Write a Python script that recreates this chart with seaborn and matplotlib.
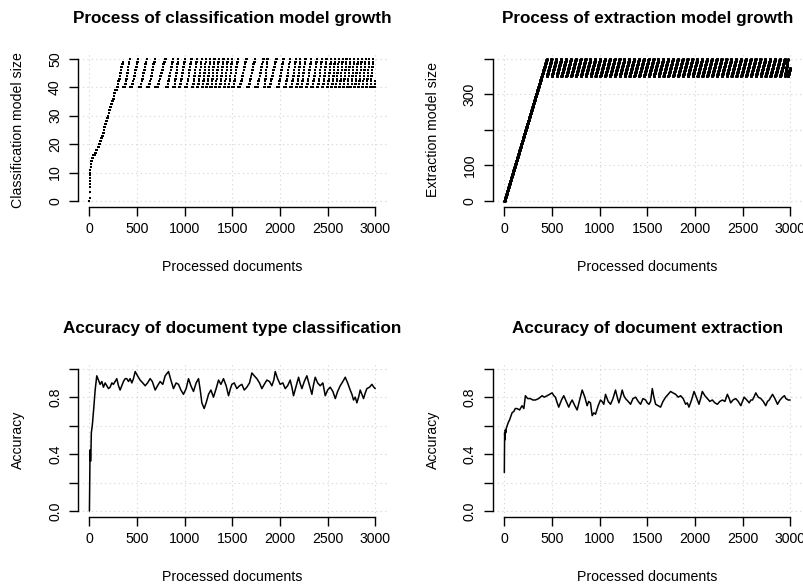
import numpy as np
import pandas as pd
import matplotlib
matplotlib.use("Agg")
import matplotlib.pyplot as plt
import seaborn as sns

sns.set_theme(style="white")
plt.rcParams["font.family"] = ["Liberation Sans", "DejaVu Sans"]
plt.rcParams["text.color"] = "black"
plt.rcParams["axes.labelcolor"] = "black"
plt.rcParams["xtick.color"] = "black"
plt.rcParams["ytick.color"] = "black"

# ---------------- data ----------------
N_DOCS = 3000
# classification model: initial growth anchors
cls_growth_docs = [0, 3, 8, 14, 25, 40, 60, 85, 112, 140, 182, 210, 235, 255, 270, 290, 310, 335, 357]
cls_growth_size = [0, 5, 10, 13, 15, 16, 17, 19, 21, 24, 29, 32, 35, 37, 39, 40, 43, 47, 50]
# classification model: pruning cycles
# doc where the model is pruned back to 40, doc where it starts growing again, doc where it is back at 50
cls_prune_docs = [357, 425, 515, 605, 690, 800, 880, 935, 1005, 1075, 1130, 1180, 1225, 1270,
                  1315, 1360, 1410, 1455, 1500, 1560, 1650, 1740, 1830, 1870, 1965, 2040, 2110,
                  2170, 2215, 2270, 2330, 2390, 2440, 2490, 2540, 2580, 2620, 2660, 2700, 2740,
                  2780, 2820, 2860, 2900, 2940, 2980]
cls_climb_docs = [371, 443, 533, 622, 712, 816, 891, 949, 1019, 1086, 1140, 1189, 1234, 1279,
                  1324, 1370, 1419, 1464, 1512, 1578, 1668, 1758, 1838, 1889, 1980, 2054, 2122,
                  2179, 2226, 2282, 2342, 2400, 2450, 2500, 2548, 2588, 2628, 2668, 2708, 2748,
                  2788, 2828, 2868, 2908, 2948, 2990]
cls_top_docs = [424, 514, 604, 689, 799, 879, 934, 1004, 1074, 1129, 1179, 1224, 1269, 1314,
                1359, 1409, 1454, 1499, 1559, 1649, 1739, 1829, 1869, 1964, 2039, 2109, 2169,
                2214, 2269, 2329, 2389, 2439, 2489, 2539, 2579, 2619, 2659, 2699, 2739, 2779,
                2819, 2859, 2899, 2939, 2979, 3035]
cls_low, cls_high = 40, 50

# extraction model: initial growth and pruning cycles
ext_growth_docs = [0, 446]
ext_growth_size = [0, 400]
ext_prune_docs = [446, 497, 548, 599, 650, 701, 752, 803, 854, 905, 956, 1007, 1058, 1109,
                  1160, 1211, 1262, 1313, 1364, 1415, 1466, 1517, 1568, 1619, 1670, 1721,
                  1772, 1823, 1874, 1925, 1976, 2027, 2078, 2129, 2180, 2231, 2282, 2333,
                  2384, 2435, 2486, 2537, 2588, 2639, 2690, 2741, 2792, 2843, 2894, 2945, 2975]
ext_top_docs = [496, 547, 598, 649, 700, 751, 802, 853, 904, 955, 1006, 1057, 1108, 1159,
                1210, 1261, 1312, 1363, 1414, 1465, 1516, 1567, 1618, 1669, 1720, 1771,
                1822, 1873, 1924, 1975, 2026, 2077, 2128, 2179, 2230, 2281, 2332, 2383,
                2434, 2485, 2536, 2587, 2638, 2689, 2740, 2791, 2842, 2893, 2944, 2974, 3026]
ext_low, ext_high = 350, 400

# accuracy curves
acc_cls_docs = [0, 5, 8, 12, 16, 20, 30, 45, 60, 77, 95, 112, 130, 147, 165, 182, 200, 217, 235,
                252, 270, 287, 305, 322, 340, 357, 375, 392, 410, 427, 445, 462, 480, 505, 532,
                560, 585, 610, 637, 660, 690, 715, 742, 770, 795, 830, 855, 882, 910, 935, 960,
                987, 1015, 1040, 1065, 1092, 1120, 1145, 1165, 1180, 1204, 1225, 1250, 1275,
                1302, 1330, 1355, 1380, 1407, 1435, 1460, 1480, 1495, 1520, 1547, 1575, 1600,
                1625, 1652, 1680, 1705, 1730, 1757, 1785, 1810, 1835, 1862, 1890, 1915, 1935,
                1950, 1975, 2002, 2030, 2055, 2080, 2107, 2125, 2142, 2170, 2195, 2210, 2230,
                2255, 2282, 2310, 2335, 2350, 2370, 2395, 2422, 2450, 2475, 2500, 2527, 2555,
                2580, 2605, 2632, 2660, 2685, 2710, 2737, 2755, 2772, 2790, 2807, 2825, 2842,
                2860, 2877, 2895, 2912, 2940, 2965, 2985, 3000]
acc_cls_vals = [0.00, 0.33, 0.43, 0.35, 0.42, 0.55, 0.60, 0.72, 0.85, 0.95, 0.92, 0.89, 0.91,
                0.87, 0.90, 0.88, 0.86, 0.87, 0.90, 0.89, 0.91, 0.93, 0.88, 0.85, 0.88, 0.91,
                0.93, 0.93, 0.91, 0.93, 0.90, 0.93, 0.98, 0.95, 0.92, 0.90, 0.88, 0.90, 0.93,
                0.91, 0.85, 0.88, 0.91, 0.89, 0.95, 0.98, 0.92, 0.86, 0.90, 0.89, 0.85, 0.82,
                0.86, 0.93, 0.88, 0.84, 0.90, 0.93, 0.84, 0.76, 0.72, 0.76, 0.82, 0.85, 0.80,
                0.86, 0.92, 0.89, 0.93, 0.88, 0.81, 0.86, 0.89, 0.90, 0.86, 0.88, 0.89, 0.85,
                0.87, 0.90, 0.97, 0.95, 0.93, 0.90, 0.86, 0.89, 0.92, 0.91, 0.88, 0.92, 0.98,
                0.93, 0.89, 0.90, 0.86, 0.88, 0.92, 0.87, 0.81, 0.88, 0.94, 0.90, 0.86, 0.91,
                0.95, 0.88, 0.82, 0.88, 0.94, 0.90, 0.88, 0.90, 0.81, 0.85, 0.87, 0.84, 0.79,
                0.84, 0.88, 0.91, 0.94, 0.90, 0.85, 0.82, 0.78, 0.80, 0.76, 0.80, 0.85, 0.82,
                0.79, 0.83, 0.86, 0.87, 0.89, 0.87, 0.86]

acc_ext_docs = [0, 3, 6, 10, 15, 20, 30, 40, 55, 70, 81, 100, 115, 133, 160, 186, 205, 221, 245,
                273, 300, 326, 360, 396, 420, 449, 475, 501, 520, 536, 555, 571, 600, 624, 650,
                676, 695, 712, 740, 764, 790, 817, 845, 869, 885, 904, 922, 940, 957, 985, 1009,
                1025, 1044, 1062, 1090, 1115, 1140, 1167, 1185, 1202, 1220, 1237, 1255, 1272,
                1300, 1325, 1350, 1378, 1405, 1430, 1455, 1483, 1500, 1518, 1535, 1553, 1570,
                1588, 1615, 1640, 1665, 1693, 1720, 1745, 1770, 1798, 1825, 1851, 1877, 1903,
                1920, 1938, 1965, 1991, 2015, 2043, 2060, 2078, 2105, 2131, 2157, 2183, 2210,
                2236, 2262, 2289, 2315, 2341, 2360, 2376, 2400, 2429, 2455, 2482, 2500, 2517,
                2545, 2570, 2587, 2604, 2620, 2639, 2665, 2692, 2718, 2744, 2762, 2780, 2798,
                2815, 2840, 2867, 2893, 2920, 2940, 2955, 2980, 3000]
acc_ext_vals = [0.27, 0.55, 0.50, 0.57, 0.55, 0.58, 0.60, 0.62, 0.64, 0.67, 0.69, 0.70, 0.72,
                0.72, 0.71, 0.74, 0.72, 0.81, 0.79, 0.79, 0.78, 0.78, 0.79, 0.81, 0.80, 0.81,
                0.82, 0.83, 0.81, 0.80, 0.76, 0.73, 0.78, 0.81, 0.77, 0.73, 0.76, 0.78, 0.74,
                0.71, 0.78, 0.85, 0.80, 0.74, 0.77, 0.76, 0.67, 0.69, 0.68, 0.74, 0.78, 0.77,
                0.75, 0.82, 0.77, 0.75, 0.79, 0.85, 0.80, 0.76, 0.80, 0.85, 0.81, 0.79, 0.77,
                0.75, 0.79, 0.80, 0.77, 0.75, 0.79, 0.78, 0.76, 0.75, 0.77, 0.86, 0.80, 0.75,
                0.74, 0.73, 0.77, 0.80, 0.82, 0.84, 0.83, 0.82, 0.80, 0.81, 0.79, 0.75, 0.76,
                0.73, 0.78, 0.84, 0.80, 0.75, 0.79, 0.84, 0.81, 0.79, 0.77, 0.78, 0.76, 0.75,
                0.77, 0.78, 0.77, 0.82, 0.79, 0.76, 0.78, 0.79, 0.77, 0.74, 0.77, 0.80, 0.78,
                0.76, 0.78, 0.78, 0.80, 0.83, 0.80, 0.79, 0.77, 0.74, 0.77, 0.78, 0.80, 0.82,
                0.79, 0.75, 0.78, 0.80, 0.81, 0.79, 0.78, 0.78]

x_ticks = [0, 500, 1000, 1500, 2000, 2500, 3000]
x_tick_labels = ["0", "500", "1000", "1500", "2000", "2500", "3000"]
cls_y_ticks = [0, 10, 20, 30, 40, 50]
cls_y_labels = ["0", "10", "20", "30", "40", "50"]
ext_y_ticks = [0, 100, 200, 300, 400]
ext_y_labels = ["0", "100", "", "300", ""]
acc_y_ticks = [0.0, 0.2, 0.4, 0.6, 0.8, 1.0]
acc_y_labels = ["0.0", "", "0.4", "", "0.8", ""]

titles = ["Process of classification model growth", "Process of extraction model growth",
          "Accuracy of document type classification", "Accuracy of document extraction"]
ylabels = ["Classification model size", "Extraction model size", "Accuracy", "Accuracy"]
xlabel = "Processed documents"


# ---------------- expand the step series per processed document ----------------
def model_series(g_docs, g_size, prune, climb, top, low, high):
    docs = np.arange(N_DOCS + 1)
    vals = np.floor(np.interp(docs, g_docs, g_size)).astype(float)
    for i in range(len(prune)):
        end = prune[i + 1] if i + 1 < len(prune) else N_DOCS + 1
        seg = np.arange(prune[i], min(end, N_DOCS + 1))
        lvl = np.floor(np.interp(seg, [climb[i], top[i] + 1], [low, high + 1]))
        vals[seg] = np.minimum(lvl, high)
    return pd.DataFrame({"doc": docs, "size": vals})


cls_df = model_series(cls_growth_docs, cls_growth_size, cls_prune_docs, cls_climb_docs,
                      cls_top_docs, cls_low, cls_high)
ext_df = model_series(ext_growth_docs, ext_growth_size, ext_prune_docs, ext_prune_docs,
                      ext_top_docs, ext_low, ext_high)
acc_cls_df = pd.DataFrame({"doc": acc_cls_docs, "acc": acc_cls_vals})
acc_ext_df = pd.DataFrame({"doc": acc_ext_docs, "acc": acc_ext_vals})

# ---------------- figure ----------------
W, H = 804, 585
fig = plt.figure(figsize=(W / 100, H / 100), dpi=100)


def px_axes(l, t, r, b):
    return fig.add_axes([l / W, 1 - b / H, (r - l) / W, (b - t) / H])


boxes = [(78, 53, 386.7, 206.7), (492.9, 53, 801.6, 206.7),
         (78, 363, 386.7, 516.7), (492.9, 363, 801.6, 516.7)]
axes = [px_axes(*b) for b in boxes]

FS = 10.2
TFS = 12.3


def style(ax, box, yticks, ylabels_, ylim, title, ylabel):
    ax.set_xlim(-120, 3120)
    ax.set_ylim(*ylim)
    ax.set_facecolor("white")
    for s in ["top", "right"]:
        ax.spines[s].set_visible(False)
    for s in ["left", "bottom"]:
        ax.spines[s].set_visible(True)
        ax.spines[s].set_color("black")
        ax.spines[s].set_linewidth(1.0)
        ax.spines[s].set_zorder(5)
    ax.spines["bottom"].set_bounds(0, 3000)
    ax.spines["left"].set_bounds(yticks[0], yticks[-1])
    ax.set_xticks(x_ticks)
    ax.set_xticklabels(x_tick_labels, fontsize=FS, color="black")
    ax.set_yticks(yticks)
    ax.set_yticklabels(ylabels_, fontsize=FS, color="black", rotation=90, va="center")
    ax.tick_params(axis="both", direction="out", length=6.5, width=1.0, color="black",
                   left=True, bottom=True)
    ax.tick_params(axis="x", pad=4.5)
    ax.tick_params(axis="y", pad=5.0)
    for xv in x_ticks:
        ax.axvline(xv, color="#D3D3D3", lw=0.8, ls=(0, (1, 3)), zorder=0)
    for yv in yticks:
        ax.axhline(yv, color="#D3D3D3", lw=0.8, ls=(0, (1, 3)), zorder=0)
    ax.set_xlabel("")
    ax.set_ylabel("")
    l, t, r, b = box
    fig.text(((l + r) / 2) / W, 1 - (18.3 + (t - 53)) / H, title,
             ha="center", va="center", fontsize=TFS, fontweight="bold", color="black")
    fig.text(((l + r) / 2) / W, 1 - (266.7 + (t - 53)) / H, xlabel,
             ha="center", va="center", fontsize=FS, color="black")
    fig.text((l - 59.7) / W, 1 - ((t + b) / 2) / H, ylabel, rotation=90,
             ha="center", va="center", fontsize=FS, color="black")


sns.scatterplot(data=cls_df, x="doc", y="size", ax=axes[0], color="black", marker="s",
                s=4.2, linewidth=0, legend=False)
style(axes[0], boxes[0], cls_y_ticks, cls_y_labels, (-2, 52), titles[0], ylabels[0])

sns.scatterplot(data=ext_df, x="doc", y="size", ax=axes[1], color="black", marker="o",
                s=4.6, linewidth=0, legend=False)
style(axes[1], boxes[1], ext_y_ticks, ext_y_labels, (-16, 416), titles[1], ylabels[1])

sns.lineplot(data=acc_cls_df, x="doc", y="acc", ax=axes[2], color="black", lw=1.1,
             estimator=None, legend=False)
style(axes[2], boxes[2], acc_y_ticks, acc_y_labels, (-0.04, 1.04), titles[2], ylabels[2])

sns.lineplot(data=acc_ext_df, x="doc", y="acc", ax=axes[3], color="black", lw=1.1,
             estimator=None, legend=False)
style(axes[3], boxes[3], acc_y_ticks, acc_y_labels, (-0.04, 1.04), titles[3], ylabels[3])

fig.savefig("out.png", dpi=100, facecolor="white")
